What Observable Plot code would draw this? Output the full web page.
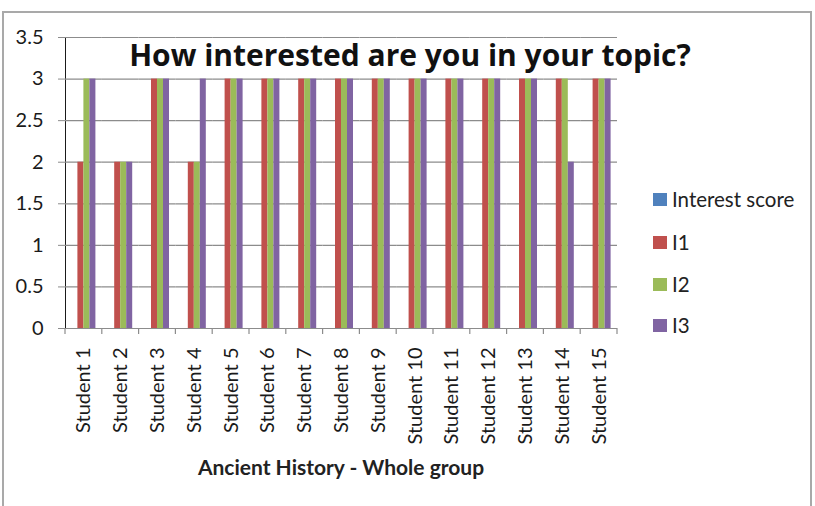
<!DOCTYPE html>
<html><head><meta charset="utf-8">
<script src="https://cdn.jsdelivr.net/npm/d3@7"></script>
<script src="https://cdn.jsdelivr.net/npm/@observablehq/plot@0.6"></script>
<style>
body{margin:0;background:#fff;font-family:Lato,sans-serif;color:#1a1a1a;}
#wrap{position:relative;width:815px;height:506px;overflow:hidden;background:#fff;}
#frame{position:absolute;left:2px;top:11px;width:810px;height:540px;border:2px solid #a9a9a9;box-sizing:border-box;pointer-events:none;}
#chart{position:absolute;left:0;top:0;}
#title{position:absolute;left:0;width:820px;top:40px;text-align:center;font-family:'Open Sans',sans-serif;font-weight:bold;font-size:30px;line-height:30px;color:#111;white-space:nowrap;}
#xtitle{position:absolute;left:141px;width:400px;top:456px;text-align:center;font-weight:bold;font-size:21px;line-height:22px;color:#222;white-space:nowrap;}
.lg{position:absolute;left:653px;height:20px;display:flex;align-items:center;font-size:20.5px;line-height:20px;color:#222;white-space:nowrap;}
.lg span.sw{display:inline-block;width:14px;height:13px;margin-right:5px;}
</style>
</head><body>
<div id="wrap"><div id="chart"></div><div id="frame"></div><div id="title"></div><div id="xtitle"></div><div id="legend"></div></div>
<script>
const students = ["Student 1","Student 2","Student 3","Student 4","Student 5","Student 6","Student 7","Student 8","Student 9","Student 10","Student 11","Student 12","Student 13","Student 14","Student 15"];
const series = ["Interest score","I1","I2","I3"];
const interestScore = [0,0,0,0,0,0,0,0,0,0,0,0,0,0,0];
const i1 = [2,2,3,2,3,3,3,3,3,3,3,3,3,3,3];
const i2 = [3,2,3,2,3,3,3,3,3,3,3,3,3,3,3];
const i3 = [3,2,3,3,3,3,3,3,3,3,3,3,3,2,3];
const yTicks = [0,0.5,1,1.5,2,2.5,3,3.5];
const colors = ["#4f81bd","#c0504d","#9bbb59","#8064a2"];
const titleText = "How interested are you in your topic?";
const xTitleText = "Ancient History - Whole group";

const valuesBySeries = [interestScore, i1, i2, i3];
const table = [];
students.forEach((s, i) => series.forEach((k, j) => table.push({student: s, series: k, value: valuesBySeries[j][i]})));

const chart = Plot.plot({
  width: 815, height: 506,
  marginLeft: 65, marginRight: 198, marginTop: 37, marginBottom: 178,
  facet: {data: table, x: "student"},
  fx: {domain: students, padding: 0, round: false, label: null, axis: "bottom", tickRotate: -90, tickSize: 0, tickPadding: 19},
  x: {domain: series, paddingInner: 0, paddingOuter: 1.0667, round: false, axis: null},
  y: {domain: [0, 3.5], ticks: yTicks, tickFormat: d3.format("~g"), tickSize: 7, tickPadding: 15, line: true, label: null},
  color: {domain: series, range: colors},
  style: {fontFamily: "Lato, sans-serif", fontSize: "20px", color: "#1a1a1a", background: "transparent"},
  marks: [
    Plot.ruleY(yTicks, {stroke: "#8c8c8c", strokeWidth: 1.2}),
    Plot.barY(table, {x: "series", y: "value", fill: "series"})
  ]
});
document.getElementById("chart").appendChild(chart);

d3.select(chart).selectAll("[aria-label^='y-axis'] path, [aria-label^='y-axis'] line").attr("stroke", "#8c8c8c");

// category tick marks between groups, placed with the library's own scales
try {
  const fx = chart.scale("fx"), y = chart.scale("y");
  const edges = students.map(s => fx.apply(s)).concat([fx.apply(students[students.length-1]) + fx.bandwidth]);
  const y0 = y.apply(0);
  d3.select(chart).append("g").attr("stroke", "#8c8c8c").attr("stroke-width", 1.2)
    .selectAll("line").data(edges).join("line")
    .attr("x1", d => d).attr("x2", d => d).attr("y1", y0).attr("y2", y0 + 6);
} catch (e) { console.error(e); }

document.getElementById("title").textContent = titleText;
document.getElementById("xtitle").textContent = xTitleText;
const legendTops = [189, 232, 274, 315];
const lg = document.getElementById("legend");
series.forEach((k, j) => {
  const row = document.createElement("div");
  row.className = "lg"; row.style.top = legendTops[j] + "px";
  row.innerHTML = `<span class="sw" style="background:${colors[j]}"></span><span></span>`;
  row.lastChild.textContent = k;
  lg.appendChild(row);
});
</script>
</body></html>
